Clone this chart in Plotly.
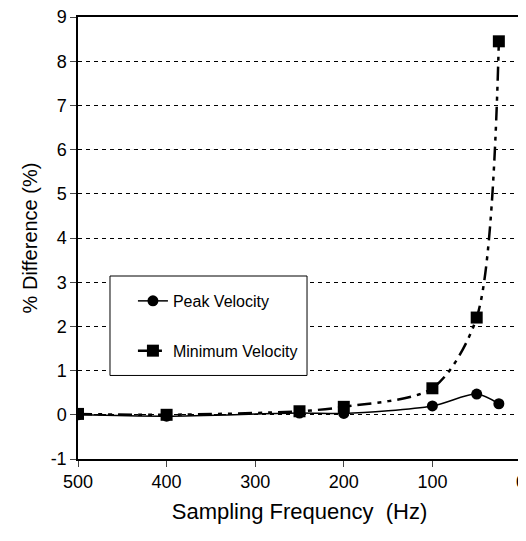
import plotly.graph_objects as go

freq = [500, 400, 250, 200, 100, 50, 25]
peak_velocity = [0.0, -0.03, 0.04, 0.03, 0.2, 0.47, 0.25]
min_velocity = [0.02, 0.0, 0.08, 0.18, 0.6, 2.2, 8.45]
y_ticks = [-1, 0, 1, 2, 3, 4, 5, 6, 7, 8, 9]
y_tick_labels = ["-1", "0", "1", "2", "3", "4", "5", "6", "7", "8", "9"]
x_ticks = [500, 400, 300, 200, 100, 0]

fig = go.Figure()
fig.add_trace(go.Scatter(
    x=freq, y=peak_velocity, name="Peak Velocity", mode="lines+markers",
    line=dict(color="black", width=1.5, shape="spline", smoothing=0.8),
    marker=dict(symbol="circle", size=11, color="black"),
    legendgroup="a",
))
fig.add_trace(go.Scatter(
    x=freq, y=min_velocity, name="Minimum Velocity", mode="lines+markers",
    line=dict(color="black", width=2.5, shape="spline", smoothing=0.8,
              dash="14px,6px,4px,6px,4px,6px"),
    marker=dict(symbol="square", size=12, color="black"),
    legendgroup="b",
))

# legend frame (white box over the grid)
fig.add_shape(type="rect", xref="x domain", yref="y domain",
              x0=0.0722, x1=0.517, y0=0.189, y1=0.414,
              line=dict(color="black", width=1), fillcolor="white", layer="above")

font = "Liberation Sans, Arial, sans-serif"
fig.update_layout(
    width=518, height=533,
    margin=dict(l=70, r=5, t=9, b=82),
    plot_bgcolor="white", paper_bgcolor="white",
    font=dict(family=font, color="black", size=16),
    showlegend=True,
    legend=dict(
        x=0.124, y=0.396, xanchor="left", yanchor="top",
        bgcolor="rgba(0,0,0,0)", borderwidth=0,
        font=dict(size=16), tracegroupgap=26,
        entrywidth=170,
    ),
    xaxis=dict(
        range=[500, 0], tickvals=x_ticks, ticks="outside", ticklen=6,
        showline=True, linecolor="black", linewidth=1.5, mirror=True,
        showgrid=False, zeroline=False, automargin=False,
        ticklabeloverflow="allow",
        title=dict(text="Sampling Frequency  (Hz)", font=dict(size=22), standoff=12),
        tickfont=dict(size=18),
    ),
    yaxis=dict(
        range=[-1, 9], tickvals=y_ticks, ticktext=y_tick_labels,
        ticks="outside", ticklen=6,
        showline=True, linecolor="black", linewidth=1.5, mirror=True,
        showgrid=True, gridcolor="black", gridwidth=1, griddash="4px,4px",
        zeroline=False, automargin=False,
        ticklabeloverflow="allow",
        title=dict(text="% Difference (%)", font=dict(size=20), standoff=8),
        tickfont=dict(size=18),
    ),
)
fig.write_html("out.html")
